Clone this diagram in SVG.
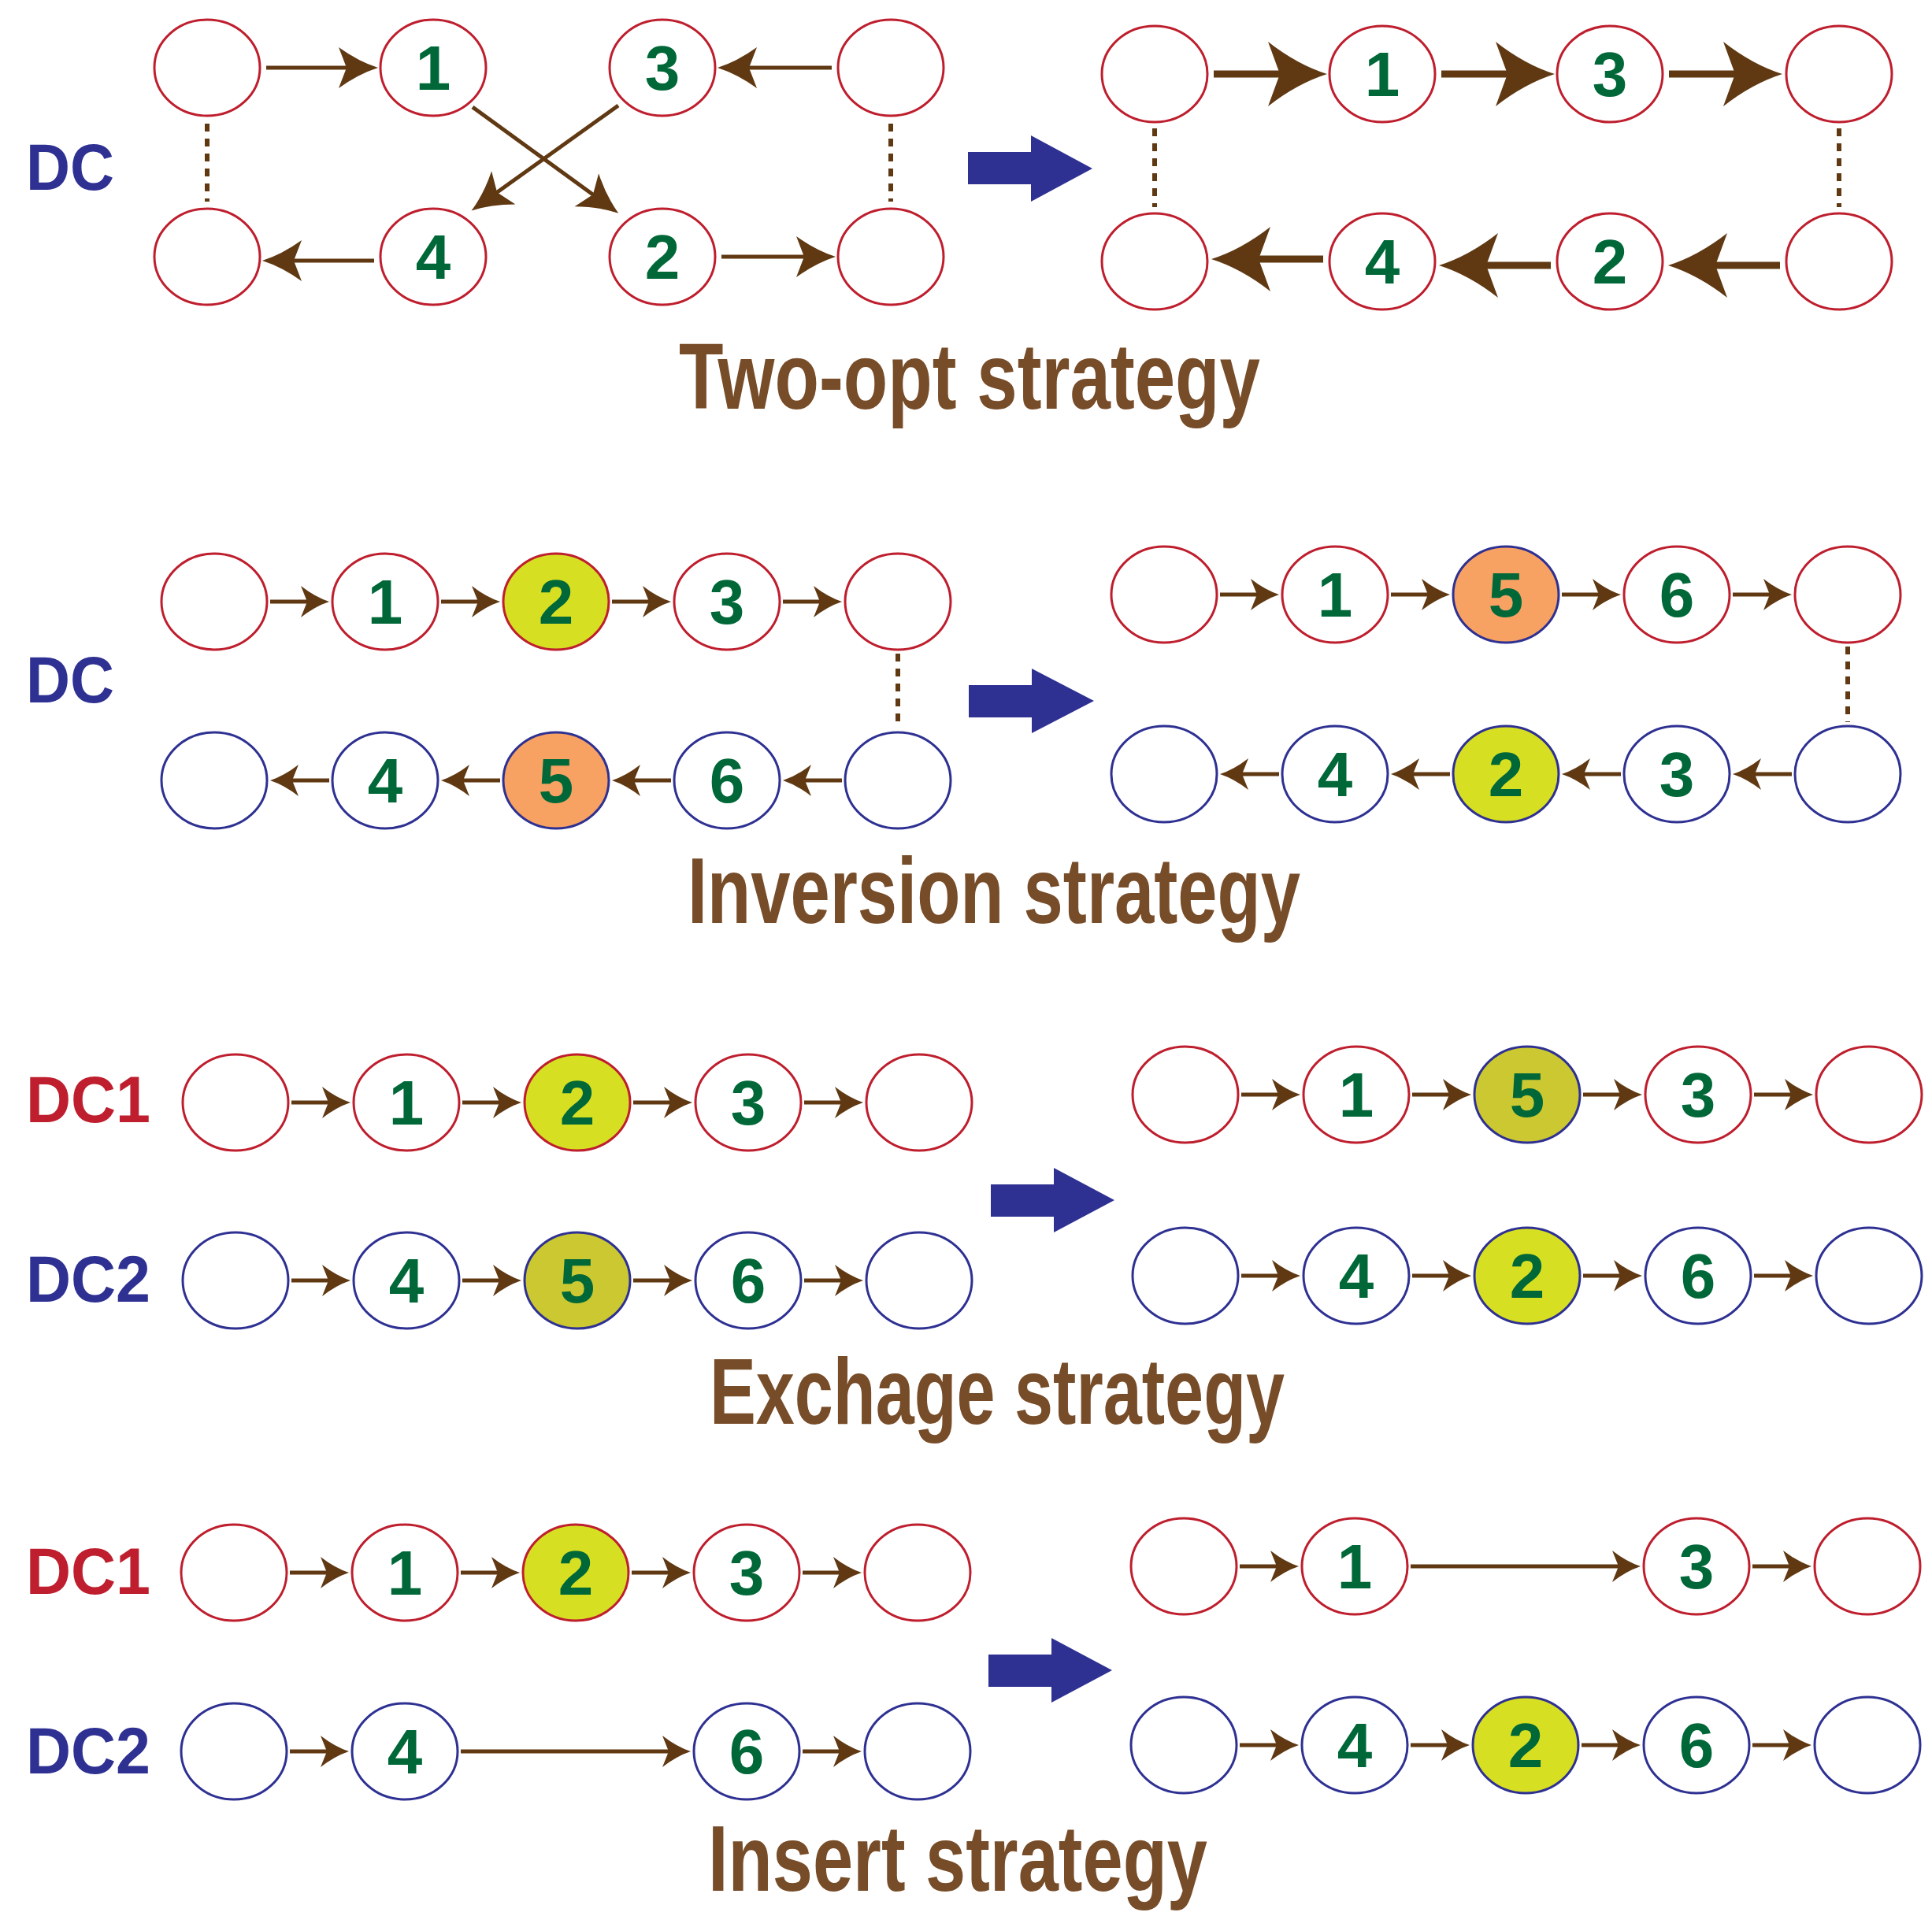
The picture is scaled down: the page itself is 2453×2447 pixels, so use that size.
<svg xmlns="http://www.w3.org/2000/svg" width="2453" height="2447" viewBox="0 0 2453 2447">
<style>
.r{fill:#fff;stroke:#be1e2d;stroke-width:3}
.b{fill:#fff;stroke:#2e3192;stroke-width:3}
.y{fill:#d7df23}
.o{fill:#f7a263}
.ol{fill:#cbc832}
.n{font-family:"Liberation Sans",Arial,sans-serif;font-weight:bold;font-size:80px;fill:#006838;text-anchor:middle}
.lab{font-family:"Liberation Sans",Arial,sans-serif;font-weight:bold;font-size:84px}
.t{font-family:"Liberation Sans",Arial,sans-serif;font-weight:bold;font-size:118px;fill:#774c28}
.a{stroke:#603913;stroke-width:5;fill:none}
.aw{stroke:#603913;stroke-width:9;fill:none}
.d{stroke:#603913;stroke-width:6;stroke-dasharray:10 9;fill:none}
.big{fill:#2e3192}
</style>
<defs>
<marker id="mA" markerUnits="userSpaceOnUse" viewBox="-55 -30 60 60" markerWidth="60" markerHeight="60" refX="-30" refY="0" orient="auto"><path d="M0,0 Q-25,8 -50,26 L-40,0 L-50,-26 Q-25,-8 0,0Z" fill="#603913"/></marker>
<marker id="mB" markerUnits="userSpaceOnUse" viewBox="-80 -45 85 90" markerWidth="85" markerHeight="90" refX="-45" refY="0" orient="auto"><path d="M0,0 Q-38,12 -75,41 L-60,0 L-75,-41 Q-38,-12 0,0Z" fill="#603913"/></marker>
<marker id="mC" markerUnits="userSpaceOnUse" viewBox="-40 -24 45 48" markerWidth="45" markerHeight="48" refX="-20" refY="0" orient="auto"><path d="M0,0 Q-18,6 -36,20 L-28,0 L-36,-20 Q-18,-6 0,0Z" fill="#603913"/></marker>
</defs>
<g id="connectors">
<path class="a" marker-end="url(#mA)" d="M338,86 L450,86"/>
<path class="a" marker-end="url(#mA)" d="M1056,86 L941,86"/>
<path class="a" marker-end="url(#mA)" d="M475,331 L363,331"/>
<path class="a" marker-end="url(#mA)" d="M916,326 L1031,326"/>
<path class="a" marker-end="url(#mA)" d="M600,136 L761,253"/>
<path class="a" marker-end="url(#mA)" d="M785,134 L623,250"/>
<path class="d" d="M263,157 L263,256"/>
<path class="d" d="M1131,157 L1131,256"/>
<path class="aw" marker-end="url(#mB)" d="M1541,94 L1640,94"/>
<path class="aw" marker-end="url(#mB)" d="M1830,94 L1929,94"/>
<path class="aw" marker-end="url(#mB)" d="M2119,94 L2218,94"/>
<path class="aw" marker-end="url(#mB)" d="M2260,337 L2163,337"/>
<path class="aw" marker-end="url(#mB)" d="M1969,337 L1872,337"/>
<path class="aw" marker-end="url(#mB)" d="M1680,329 L1583,329"/>
<path class="d" d="M1466,163 L1466,263"/>
<path class="d" d="M2335,163 L2335,263"/>
<path class="a" marker-end="url(#mC)" d="M343,764 L398,764"/>
<path class="a" marker-end="url(#mC)" d="M560,764 L615,764"/>
<path class="a" marker-end="url(#mC)" d="M777,764 L832,764"/>
<path class="a" marker-end="url(#mC)" d="M994,764 L1049,764"/>
<path class="a" marker-end="url(#mC)" d="M1069,991 L1014,991"/>
<path class="a" marker-end="url(#mC)" d="M852,991 L797,991"/>
<path class="a" marker-end="url(#mC)" d="M635,991 L580,991"/>
<path class="a" marker-end="url(#mC)" d="M418,991 L363,991"/>
<path class="d" d="M1140,830 L1140,925"/>
<path class="a" marker-end="url(#mC)" d="M1549,755 L1604,755"/>
<path class="a" marker-end="url(#mC)" d="M1766,755 L1821,755"/>
<path class="a" marker-end="url(#mC)" d="M1983,755 L2038,755"/>
<path class="a" marker-end="url(#mC)" d="M2200,755 L2255,755"/>
<path class="a" marker-end="url(#mC)" d="M2275,983 L2220,983"/>
<path class="a" marker-end="url(#mC)" d="M2058,983 L2003,983"/>
<path class="a" marker-end="url(#mC)" d="M1841,983 L1786,983"/>
<path class="a" marker-end="url(#mC)" d="M1624,983 L1569,983"/>
<path class="d" d="M2346,821 L2346,917"/>
<path class="a" marker-end="url(#mC)" d="M370,1400 L425,1400"/>
<path class="a" marker-end="url(#mC)" d="M587,1400 L642,1400"/>
<path class="a" marker-end="url(#mC)" d="M804,1400 L859,1400"/>
<path class="a" marker-end="url(#mC)" d="M1021,1400 L1076,1400"/>
<path class="a" marker-end="url(#mC)" d="M370,1626 L425,1626"/>
<path class="a" marker-end="url(#mC)" d="M587,1626 L642,1626"/>
<path class="a" marker-end="url(#mC)" d="M804,1626 L859,1626"/>
<path class="a" marker-end="url(#mC)" d="M1021,1626 L1076,1626"/>
<path class="a" marker-end="url(#mC)" d="M1576,1390 L1631,1390"/>
<path class="a" marker-end="url(#mC)" d="M1793,1390 L1848,1390"/>
<path class="a" marker-end="url(#mC)" d="M2010,1390 L2065,1390"/>
<path class="a" marker-end="url(#mC)" d="M2227,1390 L2282,1390"/>
<path class="a" marker-end="url(#mC)" d="M1576,1620 L1631,1620"/>
<path class="a" marker-end="url(#mC)" d="M1793,1620 L1848,1620"/>
<path class="a" marker-end="url(#mC)" d="M2010,1620 L2065,1620"/>
<path class="a" marker-end="url(#mC)" d="M2227,1620 L2282,1620"/>
<path class="a" marker-end="url(#mC)" d="M368,1997 L423,1997"/>
<path class="a" marker-end="url(#mC)" d="M585,1997 L640,1997"/>
<path class="a" marker-end="url(#mC)" d="M802,1997 L857,1997"/>
<path class="a" marker-end="url(#mC)" d="M1019,1997 L1074,1997"/>
<path class="a" marker-end="url(#mC)" d="M368,2224 L423,2224"/>
<path class="a" marker-end="url(#mC)" d="M585,2224 L857,2224"/>
<path class="a" marker-end="url(#mC)" d="M1019,2224 L1074,2224"/>
<path class="a" marker-end="url(#mC)" d="M1574,1989 L1629,1989"/>
<path class="a" marker-end="url(#mC)" d="M1791,1989 L2063,1989"/>
<path class="a" marker-end="url(#mC)" d="M2225,1989 L2280,1989"/>
<path class="a" marker-end="url(#mC)" d="M1574,2216 L1629,2216"/>
<path class="a" marker-end="url(#mC)" d="M1791,2216 L1846,2216"/>
<path class="a" marker-end="url(#mC)" d="M2008,2216 L2063,2216"/>
<path class="a" marker-end="url(#mC)" d="M2225,2216 L2280,2216"/>
</g>
<g id="bigarrows">
<polygon class="big" points="1229,193 1309,193 1309,172 1387,214 1309,256 1309,234 1229,234"/>
<polygon class="big" points="1230,870 1310,870 1310,849 1389,890 1310,931 1310,911 1230,911"/>
<polygon class="big" points="1258,1504 1338,1504 1338,1483 1415,1524 1338,1565 1338,1545 1258,1545"/>
<polygon class="big" points="1255,2101 1335,2101 1335,2080 1412,2121 1335,2162 1335,2142 1255,2142"/>
</g>
<g id="labels">
<text class="lab" x="33" y="241" fill="#2e3192" textLength="112" lengthAdjust="spacingAndGlyphs">DC</text>
<text class="lab" x="33" y="892" fill="#2e3192" textLength="112" lengthAdjust="spacingAndGlyphs">DC</text>
<text class="lab" x="33" y="1425" fill="#be1e2d" textLength="158" lengthAdjust="spacingAndGlyphs">DC1</text>
<text class="lab" x="33" y="1653" fill="#2e3192" textLength="158" lengthAdjust="spacingAndGlyphs">DC2</text>
<text class="lab" x="33" y="2024" fill="#be1e2d" textLength="158" lengthAdjust="spacingAndGlyphs">DC1</text>
<text class="lab" x="33" y="2252" fill="#2e3192" textLength="158" lengthAdjust="spacingAndGlyphs">DC2</text>
<text class="t" x="862" y="519" textLength="738" lengthAdjust="spacingAndGlyphs">Two-opt strategy</text>
<text class="t" x="873" y="1172" textLength="778" lengthAdjust="spacingAndGlyphs">Inversion strategy</text>
<text class="t" x="901" y="1808" textLength="730" lengthAdjust="spacingAndGlyphs">Exchage strategy</text>
<text class="t" x="899" y="2401" textLength="634" lengthAdjust="spacingAndGlyphs">Insert strategy</text>
</g>
<g id="p1">
<g id="p1a"><ellipse class="r" cx="263" cy="86" rx="67" ry="61"/></g>
<g id="p1b"><ellipse class="r" cx="550" cy="86" rx="67" ry="61"/><text class="n" x="550" y="114">1</text></g>
<g id="p1c"><ellipse class="r" cx="841" cy="86" rx="67" ry="61"/><text class="n" x="841" y="114">3</text></g>
<g id="p1d"><ellipse class="r" cx="1131" cy="86" rx="67" ry="61"/></g>
<g id="p1e"><ellipse class="r" cx="263" cy="326" rx="67" ry="61"/></g>
<g id="p1f"><ellipse class="r" cx="550" cy="326" rx="67" ry="61"/><text class="n" x="550" y="354">4</text></g>
<g id="p1g"><ellipse class="r" cx="841" cy="326" rx="67" ry="61"/><text class="n" x="841" y="354">2</text></g>
<g id="p1h"><ellipse class="r" cx="1131" cy="326" rx="67" ry="61"/></g>
<g id="p1i"><ellipse class="r" cx="1466" cy="94" rx="67" ry="61"/></g>
<g id="p1j"><ellipse class="r" cx="1755" cy="94" rx="67" ry="61"/><text class="n" x="1755" y="122">1</text></g>
<g id="p1k"><ellipse class="r" cx="2044" cy="94" rx="67" ry="61"/><text class="n" x="2044" y="122">3</text></g>
<g id="p1l"><ellipse class="r" cx="2335" cy="94" rx="67" ry="61"/></g>
<g id="p1m"><ellipse class="r" cx="1466" cy="332" rx="67" ry="61"/></g>
<g id="p1n"><ellipse class="r" cx="1755" cy="332" rx="67" ry="61"/><text class="n" x="1755" y="360">4</text></g>
<g id="p1o"><ellipse class="r" cx="2044" cy="332" rx="67" ry="61"/><text class="n" x="2044" y="360">2</text></g>
<g id="p1p"><ellipse class="r" cx="2335" cy="332" rx="67" ry="61"/></g>
</g>
<g id="p2">
<g id="p2a"><ellipse class="r" cx="272" cy="764" rx="67" ry="61"/></g>
<g id="p2b"><ellipse class="r" cx="489" cy="764" rx="67" ry="61"/><text class="n" x="489" y="792">1</text></g>
<g id="p2c"><ellipse class="r y" cx="706" cy="764" rx="67" ry="61"/><text class="n" x="706" y="792">2</text></g>
<g id="p2d"><ellipse class="r" cx="923" cy="764" rx="67" ry="61"/><text class="n" x="923" y="792">3</text></g>
<g id="p2e"><ellipse class="r" cx="1140" cy="764" rx="67" ry="61"/></g>
<g id="p2f"><ellipse class="b" cx="272" cy="991" rx="67" ry="61"/></g>
<g id="p2g"><ellipse class="b" cx="489" cy="991" rx="67" ry="61"/><text class="n" x="489" y="1019">4</text></g>
<g id="p2h"><ellipse class="b o" cx="706" cy="991" rx="67" ry="61"/><text class="n" x="706" y="1019">5</text></g>
<g id="p2i"><ellipse class="b" cx="923" cy="991" rx="67" ry="61"/><text class="n" x="923" y="1019">6</text></g>
<g id="p2j"><ellipse class="b" cx="1140" cy="991" rx="67" ry="61"/></g>
<g id="p2k"><ellipse class="r" cx="1478" cy="755" rx="67" ry="61"/></g>
<g id="p2l"><ellipse class="r" cx="1695" cy="755" rx="67" ry="61"/><text class="n" x="1695" y="783">1</text></g>
<g id="p2m"><ellipse class="b o" cx="1912" cy="755" rx="67" ry="61"/><text class="n" x="1912" y="783">5</text></g>
<g id="p2n"><ellipse class="r" cx="2129" cy="755" rx="67" ry="61"/><text class="n" x="2129" y="783">6</text></g>
<g id="p2o"><ellipse class="r" cx="2346" cy="755" rx="67" ry="61"/></g>
<g id="p2p"><ellipse class="b" cx="1478" cy="983" rx="67" ry="61"/></g>
<g id="p2q"><ellipse class="b" cx="1695" cy="983" rx="67" ry="61"/><text class="n" x="1695" y="1011">4</text></g>
<g id="p2r"><ellipse class="b y" cx="1912" cy="983" rx="67" ry="61"/><text class="n" x="1912" y="1011">2</text></g>
<g id="p2s"><ellipse class="b" cx="2129" cy="983" rx="67" ry="61"/><text class="n" x="2129" y="1011">3</text></g>
<g id="p2t"><ellipse class="b" cx="2346" cy="983" rx="67" ry="61"/></g>
</g>
<g id="p3">
<g id="p3a"><ellipse class="r" cx="299" cy="1400" rx="67" ry="61"/></g>
<g id="p3b"><ellipse class="r" cx="516" cy="1400" rx="67" ry="61"/><text class="n" x="516" y="1428">1</text></g>
<g id="p3c"><ellipse class="r y" cx="733" cy="1400" rx="67" ry="61"/><text class="n" x="733" y="1428">2</text></g>
<g id="p3d"><ellipse class="r" cx="950" cy="1400" rx="67" ry="61"/><text class="n" x="950" y="1428">3</text></g>
<g id="p3e"><ellipse class="r" cx="1167" cy="1400" rx="67" ry="61"/></g>
<g id="p3f"><ellipse class="b" cx="299" cy="1626" rx="67" ry="61"/></g>
<g id="p3g"><ellipse class="b" cx="516" cy="1626" rx="67" ry="61"/><text class="n" x="516" y="1654">4</text></g>
<g id="p3h"><ellipse class="b ol" cx="733" cy="1626" rx="67" ry="61"/><text class="n" x="733" y="1654">5</text></g>
<g id="p3i"><ellipse class="b" cx="950" cy="1626" rx="67" ry="61"/><text class="n" x="950" y="1654">6</text></g>
<g id="p3j"><ellipse class="b" cx="1167" cy="1626" rx="67" ry="61"/></g>
<g id="p3k"><ellipse class="r" cx="1505" cy="1390" rx="67" ry="61"/></g>
<g id="p3l"><ellipse class="r" cx="1722" cy="1390" rx="67" ry="61"/><text class="n" x="1722" y="1418">1</text></g>
<g id="p3m"><ellipse class="b ol" cx="1939" cy="1390" rx="67" ry="61"/><text class="n" x="1939" y="1418">5</text></g>
<g id="p3n"><ellipse class="r" cx="2156" cy="1390" rx="67" ry="61"/><text class="n" x="2156" y="1418">3</text></g>
<g id="p3o"><ellipse class="r" cx="2373" cy="1390" rx="67" ry="61"/></g>
<g id="p3p"><ellipse class="b" cx="1505" cy="1620" rx="67" ry="61"/></g>
<g id="p3q"><ellipse class="b" cx="1722" cy="1620" rx="67" ry="61"/><text class="n" x="1722" y="1648">4</text></g>
<g id="p3r"><ellipse class="b y" cx="1939" cy="1620" rx="67" ry="61"/><text class="n" x="1939" y="1648">2</text></g>
<g id="p3s"><ellipse class="b" cx="2156" cy="1620" rx="67" ry="61"/><text class="n" x="2156" y="1648">6</text></g>
<g id="p3t"><ellipse class="b" cx="2373" cy="1620" rx="67" ry="61"/></g>
</g>
<g id="p4">
<g id="p4a"><ellipse class="r" cx="297" cy="1997" rx="67" ry="61"/></g>
<g id="p4b"><ellipse class="r" cx="514" cy="1997" rx="67" ry="61"/><text class="n" x="514" y="2025">1</text></g>
<g id="p4c"><ellipse class="r y" cx="731" cy="1997" rx="67" ry="61"/><text class="n" x="731" y="2025">2</text></g>
<g id="p4d"><ellipse class="r" cx="948" cy="1997" rx="67" ry="61"/><text class="n" x="948" y="2025">3</text></g>
<g id="p4e"><ellipse class="r" cx="1165" cy="1997" rx="67" ry="61"/></g>
<g id="p4f"><ellipse class="b" cx="297" cy="2224" rx="67" ry="61"/></g>
<g id="p4g"><ellipse class="b" cx="514" cy="2224" rx="67" ry="61"/><text class="n" x="514" y="2252">4</text></g>
<g id="p4i"><ellipse class="b" cx="948" cy="2224" rx="67" ry="61"/><text class="n" x="948" y="2252">6</text></g>
<g id="p4j"><ellipse class="b" cx="1165" cy="2224" rx="67" ry="61"/></g>
<g id="p4k"><ellipse class="r" cx="1503" cy="1989" rx="67" ry="61"/></g>
<g id="p4l"><ellipse class="r" cx="1720" cy="1989" rx="67" ry="61"/><text class="n" x="1720" y="2017">1</text></g>
<g id="p4n"><ellipse class="r" cx="2154" cy="1989" rx="67" ry="61"/><text class="n" x="2154" y="2017">3</text></g>
<g id="p4o"><ellipse class="r" cx="2371" cy="1989" rx="67" ry="61"/></g>
<g id="p4p"><ellipse class="b" cx="1503" cy="2216" rx="67" ry="61"/></g>
<g id="p4q"><ellipse class="b" cx="1720" cy="2216" rx="67" ry="61"/><text class="n" x="1720" y="2244">4</text></g>
<g id="p4r"><ellipse class="b y" cx="1937" cy="2216" rx="67" ry="61"/><text class="n" x="1937" y="2244">2</text></g>
<g id="p4s"><ellipse class="b" cx="2154" cy="2216" rx="67" ry="61"/><text class="n" x="2154" y="2244">6</text></g>
<g id="p4t"><ellipse class="b" cx="2371" cy="2216" rx="67" ry="61"/></g>
</g>
</svg>
